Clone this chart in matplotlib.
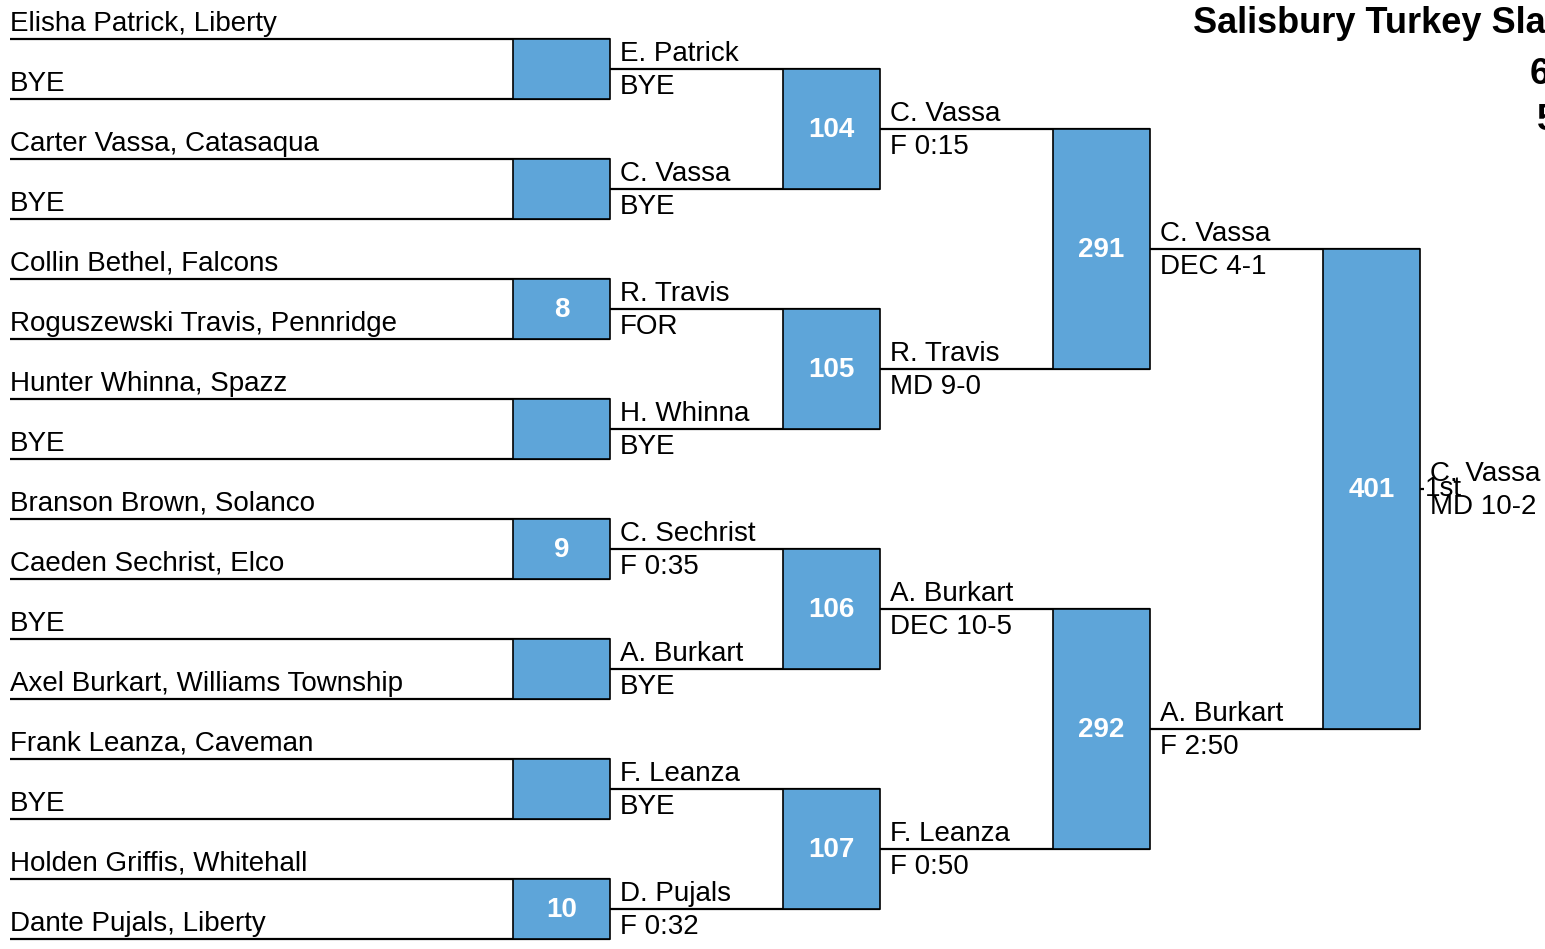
import matplotlib
matplotlib.use("Agg")
import matplotlib.pyplot as plt
from matplotlib.patches import Rectangle

# bracket data, round by round
entrants = [
    "Elisha Patrick, Liberty", "BYE",
    "Carter Vassa, Catasaqua", "BYE",
    "Collin Bethel, Falcons", "Roguszewski Travis, Pennridge",
    "Hunter Whinna, Spazz", "BYE",
    "Branson Brown, Solanco", "Caeden Sechrist, Elco",
    "BYE", "Axel Burkart, Williams Township",
    "Frank Leanza, Caveman", "BYE",
    "Holden Griffis, Whitehall", "Dante Pujals, Liberty",
]
bouts_r1 = ["", "", "8", "", "9", "", "", "10"]
r2_names = ["E. Patrick", "C. Vassa", "R. Travis", "H. Whinna",
            "C. Sechrist", "A. Burkart", "F. Leanza", "D. Pujals"]
r2_results = ["BYE", "BYE", "FOR", "BYE", "F 0:35", "BYE", "BYE", "F 0:32"]
bouts_r2 = ["104", "105", "106", "107"]
r3_names = ["C. Vassa", "R. Travis", "A. Burkart", "F. Leanza"]
r3_results = ["F 0:15", "MD 9-0", "DEC 10-5", "F 0:50"]
bouts_r3 = ["291", "292"]
r4_names = ["C. Vassa", "A. Burkart"]
r4_results = ["DEC 4-1", "F 2:50"]
bouts_r4 = ["401"]
champ_name = "C. Vassa"
champ_result = "MD 10-2"
champ_place = "1st"

title = "Salisbury Turkey Slam"

BOX = "#5ea5d9"
W, H = 1545, 949
FONT = "Liberation Sans"
FS = 20
LW = 1.6

fig = plt.figure(figsize=(W / 100, H / 100), dpi=100)
ax = fig.add_axes([0, 0, 1, 1])
ax.set_xlim(0, W)
ax.set_ylim(H, 0)
ax.axis("off")

col_x = [10, 610, 880, 1150, 1420]
box_w = 97


def line_y(rnd, i):
    step = 60 * 2 ** rnd
    return 39 + (2 ** rnd - 1) * 30 + i * step


def draw_round(rnd, names, results, bouts):
    x0 = col_x[rnd]
    x1 = col_x[rnd + 1]
    tx = x0 if rnd == 0 else x0 + 10
    for i, name in enumerate(names):
        y = line_y(rnd, i)
        ax.plot([x0, x1], [y, y], color="black", lw=LW, solid_capstyle="butt")
        ax.text(tx, y - 8, name, fontsize=FS, family=FONT, va="baseline", ha="left")
        if results is not None:
            ax.text(tx, y + 25, results[i], fontsize=FS, family=FONT, va="baseline", ha="left")
    for j, b in enumerate(bouts):
        ya = line_y(rnd, 2 * j)
        yb = line_y(rnd, 2 * j + 1)
        ax.add_patch(Rectangle((x1 - box_w, ya), box_w, yb - ya, facecolor=BOX,
                               edgecolor="black", lw=1.2, zorder=3))
        if b:
            ax.text(x1 - box_w / 2, (ya + yb) / 2 + 8, b, fontsize=20, family=FONT,
                    weight="bold", color="white", ha="center", va="baseline", zorder=4)


draw_round(0, entrants, None, bouts_r1)
draw_round(1, r2_names, r2_results, bouts_r2)
draw_round(2, r3_names, r3_results, bouts_r3)
draw_round(3, r4_names, r4_results, bouts_r4)

# champion
yc = line_y(4, 0)
ax.plot([1420, 1424], [yc, yc], color="black", lw=LW, solid_capstyle="butt")
ax.text(1430, yc - 8, champ_name, fontsize=FS, family=FONT, va="baseline")
ax.text(1430, yc + 25, champ_result, fontsize=FS, family=FONT, va="baseline")
ax.text(1425, yc + 7, champ_place, fontsize=FS, family=FONT, va="baseline")

# title block (runs off the right edge)
ax.text(1193, 33, title, fontsize=26, family=FONT, weight="bold", va="baseline")
ax.text(1530, 84, "6", fontsize=26, family=FONT, weight="bold", va="baseline")
ax.text(1537, 130, "5", fontsize=26, family=FONT, weight="bold", va="baseline")

fig.savefig("out.png", dpi=100)
